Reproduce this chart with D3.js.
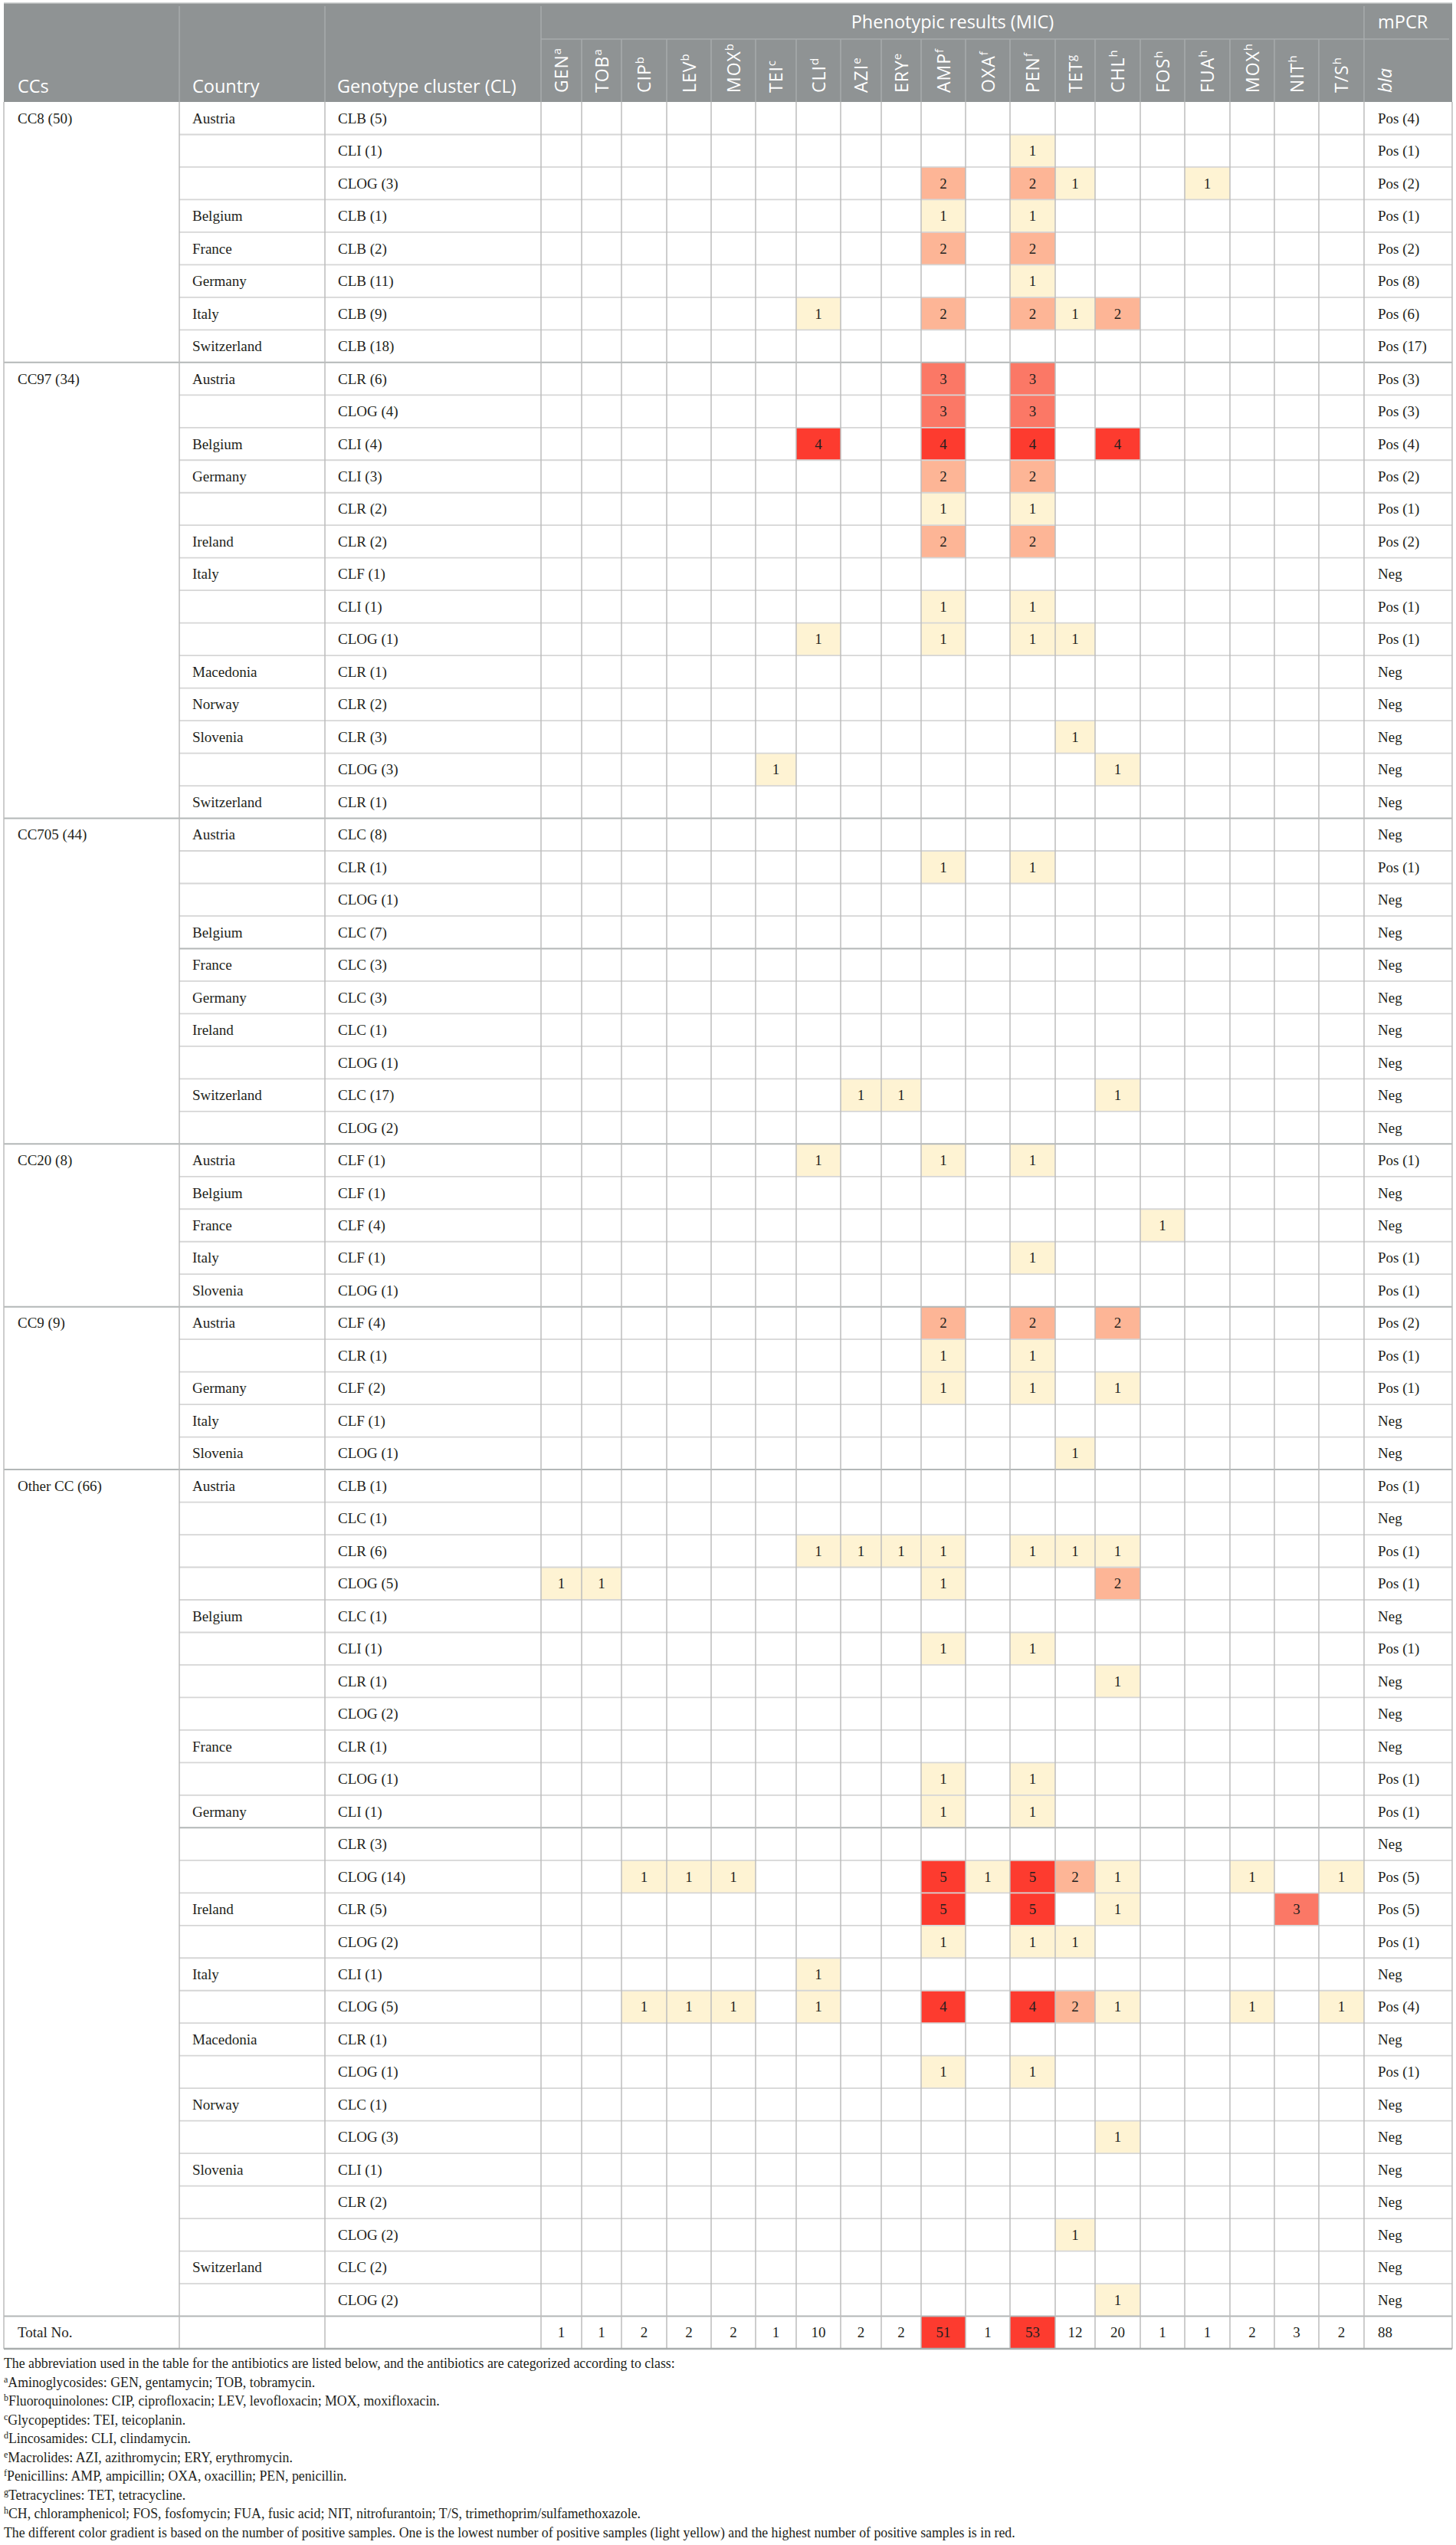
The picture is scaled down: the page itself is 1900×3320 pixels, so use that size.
<!DOCTYPE html>
<html><head><meta charset="utf-8">
<script src="https://cdn.jsdelivr.net/npm/d3@7"></script>
<style>html,body{margin:0;padding:0;background:#fff}</style>
</head><body>
<script>
// ---------------- DATA ----------------
const antibioticLabels = ["GEN","TOB","CIP","LEV","MOX","TEI","CLI","AZI","ERY","AMP","OXA","PEN","TET","CHL","FOS","FUA","MOX","NIT","T/S"];
const antibioticIds    = ["GEN","TOB","CIP","LEV","MOXb","TEI","CLI","AZI","ERY","AMP","OXA","PEN","TET","CHL","FOS","FUA","MOXh","NIT","TS"];
const classMarks       = ["a","a","b","b","b","c","d","e","e","f","f","f","g","h","h","h","h","h","h"];

const ccLabels = ["CC8 (50)","CC97 (34)","CC705 (44)","CC20 (8)","CC9 (9)","Other CC (66)"];

// [country, genotype cluster, mPCR bla, positive MIC results]
const cc8Rows = [
  ["Austria","CLB (5)","Pos (4)",""],
  ["","CLI (1)","Pos (1)","PEN 1"],
  ["","CLOG (3)","Pos (2)","AMP 2 PEN 2 TET 1 FUA 1"],
  ["Belgium","CLB (1)","Pos (1)","AMP 1 PEN 1"],
  ["France","CLB (2)","Pos (2)","AMP 2 PEN 2"],
  ["Germany","CLB (11)","Pos (8)","PEN 1"],
  ["Italy","CLB (9)","Pos (6)","CLI 1 AMP 2 PEN 2 TET 1 CHL 2"],
  ["Switzerland","CLB (18)","Pos (17)",""]
];
const cc97Rows = [
  ["Austria","CLR (6)","Pos (3)","AMP 3 PEN 3"],
  ["","CLOG (4)","Pos (3)","AMP 3 PEN 3"],
  ["Belgium","CLI (4)","Pos (4)","CLI 4 AMP 4 PEN 4 CHL 4"],
  ["Germany","CLI (3)","Pos (2)","AMP 2 PEN 2"],
  ["","CLR (2)","Pos (1)","AMP 1 PEN 1"],
  ["Ireland","CLR (2)","Pos (2)","AMP 2 PEN 2"],
  ["Italy","CLF (1)","Neg",""],
  ["","CLI (1)","Pos (1)","AMP 1 PEN 1"],
  ["","CLOG (1)","Pos (1)","CLI 1 AMP 1 PEN 1 TET 1"],
  ["Macedonia","CLR (1)","Neg",""],
  ["Norway","CLR (2)","Neg",""],
  ["Slovenia","CLR (3)","Neg","TET 1"],
  ["","CLOG (3)","Neg","TEI 1 CHL 1"],
  ["Switzerland","CLR (1)","Neg",""]
];
const cc705Rows = [
  ["Austria","CLC (8)","Neg",""],
  ["","CLR (1)","Pos (1)","AMP 1 PEN 1"],
  ["","CLOG (1)","Neg",""],
  ["Belgium","CLC (7)","Neg",""],
  ["France","CLC (3)","Neg",""],
  ["Germany","CLC (3)","Neg",""],
  ["Ireland","CLC (1)","Neg",""],
  ["","CLOG (1)","Neg",""],
  ["Switzerland","CLC (17)","Neg","AZI 1 ERY 1 CHL 1"],
  ["","CLOG (2)","Neg",""]
];
const cc20Rows = [
  ["Austria","CLF (1)","Pos (1)","CLI 1 AMP 1 PEN 1"],
  ["Belgium","CLF (1)","Neg",""],
  ["France","CLF (4)","Neg","FOS 1"],
  ["Italy","CLF (1)","Pos (1)","PEN 1"],
  ["Slovenia","CLOG (1)","Pos (1)",""]
];
const cc9Rows = [
  ["Austria","CLF (4)","Pos (2)","AMP 2 PEN 2 CHL 2"],
  ["","CLR (1)","Pos (1)","AMP 1 PEN 1"],
  ["Germany","CLF (2)","Pos (1)","AMP 1 PEN 1 CHL 1"],
  ["Italy","CLF (1)","Neg",""],
  ["Slovenia","CLOG (1)","Neg","TET 1"]
];
const otherRows = [
  ["Austria","CLB (1)","Pos (1)",""],
  ["","CLC (1)","Neg",""],
  ["","CLR (6)","Pos (1)","CLI 1 AZI 1 ERY 1 AMP 1 PEN 1 TET 1 CHL 1"],
  ["","CLOG (5)","Pos (1)","GEN 1 TOB 1 AMP 1 CHL 2"],
  ["Belgium","CLC (1)","Neg",""],
  ["","CLI (1)","Pos (1)","AMP 1 PEN 1"],
  ["","CLR (1)","Neg","CHL 1"],
  ["","CLOG (2)","Neg",""],
  ["France","CLR (1)","Neg",""],
  ["","CLOG (1)","Pos (1)","AMP 1 PEN 1"],
  ["Germany","CLI (1)","Pos (1)","AMP 1 PEN 1"],
  ["","CLR (3)","Neg",""],
  ["","CLOG (14)","Pos (5)","CIP 1 LEV 1 MOXb 1 AMP 5 OXA 1 PEN 5 TET 2 CHL 1 MOXh 1 TS 1"],
  ["Ireland","CLR (5)","Pos (5)","AMP 5 PEN 5 CHL 1 NIT 3"],
  ["","CLOG (2)","Pos (1)","AMP 1 PEN 1 TET 1"],
  ["Italy","CLI (1)","Neg","CLI 1"],
  ["","CLOG (5)","Pos (4)","CIP 1 LEV 1 MOXb 1 CLI 1 AMP 4 PEN 4 TET 2 CHL 1 MOXh 1 TS 1"],
  ["Macedonia","CLR (1)","Neg",""],
  ["","CLOG (1)","Pos (1)","AMP 1 PEN 1"],
  ["Norway","CLC (1)","Neg",""],
  ["","CLOG (3)","Neg","CHL 1"],
  ["Slovenia","CLI (1)","Neg",""],
  ["","CLR (2)","Neg",""],
  ["","CLOG (2)","Neg","TET 1"],
  ["Switzerland","CLC (2)","Neg",""],
  ["","CLOG (2)","Neg","CHL 1"]
];
const totalLabel = "Total No.";
const totalValues = [1,1,2,2,2,1,10,2,2,51,1,53,12,20,1,1,2,3,2];
const totalBla = "88";

const footnotes = [
  ["", "The abbreviation used in the table for the antibiotics are listed below, and the antibiotics are categorized according to class:"],
  ["a", "Aminoglycosides: GEN, gentamycin; TOB, tobramycin."],
  ["b", "Fluoroquinolones: CIP, ciprofloxacin; LEV, levofloxacin; MOX, moxifloxacin."],
  ["c", "Glycopeptides: TEI, teicoplanin."],
  ["d", "Lincosamides: CLI, clindamycin."],
  ["e", "Macrolides: AZI, azithromycin; ERY, erythromycin."],
  ["f", "Penicillins: AMP, ampicillin; OXA, oxacillin; PEN, penicillin."],
  ["g", "Tetracyclines: TET, tetracycline."],
  ["h", "CH, chloramphenicol; FOS, fosfomycin; FUA, fusic acid; NIT, nitrofurantoin; T/S, trimethoprim/sulfamethoxazole."],
  ["", "The different color gradient is based on the number of positive samples. One is the lowest number of positive samples (light yellow) and the highest number of positive samples is in red."]
];

// ---------------- LAYOUT ----------------
const W = 1900, H = 3320;
const TL = 5, TR = 1895, HEAD_T = 4, HEAD_MID = 51, BODY_T = 133, BODY_B = 3064;
const X_COUNTRY = 234, X_CLUSTER = 424;
const colEdges = [706,759,811,870,928,986,1039,1097,1150,1202,1260,1318,1377,1429,1488,1546,1605,1663,1721,1780];
const X_BLA = 1780;
const SERIF = "'Liberation Serif','Times New Roman',serif";
const SANS = "'Open Sans','Noto Sans',sans-serif";
const INK = "#231f20";

// flatten rows
const groupRows = [cc8Rows, cc97Rows, cc705Rows, cc20Rows, cc9Rows, otherRows];
const allRows = [];
groupRows.forEach((rows, gi) => rows.forEach((r, ri) => {
  const vals = {};
  r[3].split(" ").filter(s => s).forEach((t, k, arr) => { if (k % 2 === 0) vals[t] = +arr[k + 1]; });
  allRows.push({cc: ri === 0 ? ccLabels[gi] : "", groupStart: ri === 0, country: r[0], cluster: r[1], bla: r[2], vals});
}));
const nRows = allRows.length + 1; // + total row

const y = d3.scaleBand().domain(d3.range(nRows)).range([BODY_T, BODY_B]);
const x = d3.scaleOrdinal().domain(antibioticIds).range(colEdges.slice(0, 19));
const xw = d3.scaleOrdinal().domain(antibioticIds).range(colEdges.slice(0, 19).map((e, i) => colEdges[i + 1] - e));
const color = d3.scaleThreshold().domain([2, 3, 4]).range(["#fef3d3", "#fdb596", "#fb7866", "#fd3b2f"]);
const totalColor = d3.scaleThreshold().domain([40]).range(["#ffffff", "#fd3b2f"]);

const svg = d3.select("body").append("svg").attr("width", W).attr("height", H)
  .style("display", "block").style("background", "#fff");

// ---------------- HEADER ----------------
const hd = svg.append("g");
hd.append("rect").attr("x", TL).attr("y", HEAD_T).attr("width", TR - TL).attr("height", BODY_T - HEAD_T).attr("fill", "#8f9394");
hd.append("line").attr("x1", TL).attr("x2", TR).attr("y1", HEAD_T).attr("y2", HEAD_T).attr("stroke", "#c6c8c8").attr("stroke-width", 1.5);
const hline = "#a7abac";
[X_COUNTRY, X_CLUSTER, colEdges[0], X_BLA].forEach(xx =>
  hd.append("line").attr("x1", xx).attr("x2", xx).attr("y1", HEAD_T + 4).attr("y2", BODY_T).attr("stroke", hline).attr("stroke-width", 1.5));
colEdges.slice(1, 19).forEach(xx =>
  hd.append("line").attr("x1", xx).attr("x2", xx).attr("y1", HEAD_MID).attr("y2", BODY_T).attr("stroke", hline).attr("stroke-width", 1.5));
hd.append("line").attr("x1", colEdges[0]).attr("x2", TR - 4).attr("y1", HEAD_MID).attr("y2", HEAD_MID).attr("stroke", hline).attr("stroke-width", 1.5);

const htext = (t, xx, yy, anchor) => hd.append("text").attr("x", xx).attr("y", yy).attr("text-anchor", anchor || "start")
  .attr("font-family", SANS).attr("font-size", 23.5).attr("fill", "#fff").text(t);
htext("CCs", 23, 121);
htext("Country", 251, 121);
htext("Genotype cluster (CL)", 440, 121);
htext("Phenotypic results (MIC)", (colEdges[0] + X_BLA) / 2, 37, "middle");
htext("mPCR", 1798, 37);

antibioticIds.forEach((id, i) => {
  const cx = x(id) + xw(id) / 2;
  const t = hd.append("text").attr("transform", `translate(${cx + 8.5},121) rotate(-90)`)
    .attr("font-family", SANS).attr("font-size", 23).attr("fill", "#fff").attr("letter-spacing", 1);
  t.append("tspan").text(antibioticLabels[i]);
  t.append("tspan").attr("font-size", 15).attr("dy", -9).text(classMarks[i]);
});
hd.append("text").attr("transform", `translate(1816,121) rotate(-90)`)
  .attr("font-family", SANS).attr("font-size", 23).attr("font-style", "italic").attr("fill", "#fff").text("bla");

// ---------------- BODY ----------------
const body = svg.append("g");
// cell fills
allRows.forEach((r, i) => {
  antibioticIds.forEach(id => {
    const v = r.vals[id];
    if (v) body.append("rect").attr("x", x(id)).attr("y", y(i)).attr("width", xw(id)).attr("height", y.bandwidth()).attr("fill", color(v));
  });
});
const ti = nRows - 1;
antibioticIds.forEach((id, k) => {
  const c = totalColor(totalValues[k]);
  if (c !== "#ffffff") body.append("rect").attr("x", x(id)).attr("y", y(ti)).attr("width", xw(id)).attr("height", y.bandwidth()).attr("fill", c);
});

// horizontal lines
const pageBreaks = new Set([26, 53]);
for (let i = 1; i < nRows; i++) {
  const full = i === ti || allRows[i].groupStart;
  const dark = full || pageBreaks.has(i);
  body.append("line").attr("x1", full ? TL : X_COUNTRY).attr("x2", TR).attr("y1", y(i)).attr("y2", y(i))
    .attr("stroke", dark ? "#b3b7b7" : "#d6d6d6").attr("stroke-width", dark ? 2 : 1.8);
}
// vertical lines
[TL, X_COUNTRY, X_CLUSTER, ...colEdges, TR].forEach(xx =>
  body.append("line").attr("x1", xx).attr("x2", xx).attr("y1", BODY_T).attr("y2", BODY_B).attr("stroke", "#bdbdbd").attr("stroke-width", 1.5));
body.append("line").attr("x1", TL).attr("x2", TR).attr("y1", BODY_B).attr("y2", BODY_B).attr("stroke", "#a9adad").attr("stroke-width", 2.5);

// texts
const btext = (t, xx, yy, anchor) => body.append("text").attr("x", xx).attr("y", yy).attr("text-anchor", anchor || "start")
  .attr("font-family", SERIF).attr("font-size", 19).attr("fill", INK).text(t);
const base = i => y(i) + y.bandwidth() / 2 + 6.5;
allRows.forEach((r, i) => {
  if (r.cc) btext(r.cc, 23, base(i));
  if (r.country) btext(r.country, 251, base(i));
  btext(r.cluster, 441, base(i));
  btext(r.bla, 1798, base(i));
  antibioticIds.forEach(id => {
    const v = r.vals[id];
    if (v) btext(String(v), x(id) + xw(id) / 2, base(i), "middle");
  });
});
btext(totalLabel, 23, base(ti));
antibioticIds.forEach((id, k) => btext(String(totalValues[k]), x(id) + xw(id) / 2, base(ti), "middle"));
btext(totalBla, 1798, base(ti));

// ---------------- FOOTNOTES ----------------
const fn = svg.append("g");
footnotes.forEach((f, i) => {
  const t = fn.append("text").attr("x", 5).attr("y", 3089 + i * 24.5)
    .attr("font-family", SERIF).attr("font-size", 17.8).attr("fill", INK);
  if (f[0]) {
    t.append("tspan").attr("font-size", 12).attr("dy", -6).text(f[0]);
    t.append("tspan").attr("dy", 6).text(f[1]);
  } else t.text(f[1]);
});
</script>
</body></html>
